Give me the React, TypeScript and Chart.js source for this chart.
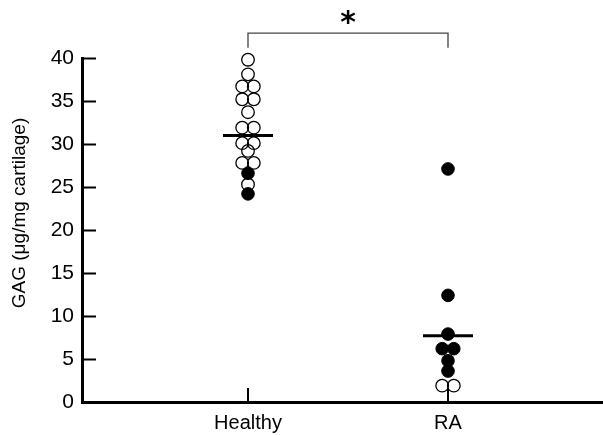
import { useEffect, useRef } from "react";
import { Chart, registerables } from "chart.js";

Chart.register(...registerables);

// ---- data ----
const categories = ["Healthy", "RA"];
const yTicks = [0, 5, 10, 15, 20, 25, 30, 35, 40];
const healthyOpen = [39.8, 38.1, 36.7, 36.7, 35.2, 35.2, 33.7, 31.9, 31.9, 30.1, 30.1, 29.2, 27.8, 27.8, 25.3];
const healthyOpenSide = [0, 0, -1, 1, -1, 1, 0, -1, 1, -1, 1, 0, -1, 1, 0];
const healthyFilled = [26.6, 24.2];
const healthyFilledSide = [0, 0];
const raFilled = [27.1, 12.4, 7.9, 6.2, 6.2, 4.8, 3.6];
const raFilledSide = [0, 0, 0, -1, 1, 0, 0];
const raOpen = [1.9, 1.9];
const raOpenSide = [-1, 1];
const groupMeans = [31.0, 7.7];
const yTitle = "GAG (\u03bcg/mg cartilage)";
const significance = "*";
const bracketLevel = 42.9;
const bracketDrop = 1.7;
const starLevel = 44.7;

// ---- layout / style constants ----
const JITTER = 0.029;
const MEAN_HALF = 0.125;
const FONT = "'Liberation Sans', Arial, Helvetica, sans-serif";

const toPoints = (vals: number[], sides: number[], cat: number) =>
  vals.map((v, i) => ({ x: cat + sides[i] * JITTER, y: v }));

const decor = {
  id: "decor",
  afterDraw(chart: any) {
    const { ctx, chartArea, scales } = chart;
    const xs = scales.x;
    const ys = scales.y;
    ctx.save();
    ctx.strokeStyle = "#000";
    ctx.lineWidth = 2;
    yTicks.forEach((v) => {
      const p = Math.round(ys.getPixelForValue(v)) + 0.5;
      ctx.beginPath();
      ctx.moveTo(chartArea.left, p);
      ctx.lineTo(chartArea.left + 14, p);
      ctx.stroke();
    });
    categories.forEach((_, i) => {
      const p = Math.round(xs.getPixelForValue(i + 1));
      ctx.beginPath();
      ctx.moveTo(p, chartArea.bottom);
      ctx.lineTo(p, chartArea.bottom - 14);
      ctx.stroke();
    });
    // significance bracket
    const x1 = xs.getPixelForValue(1);
    const x2 = xs.getPixelForValue(2);
    const yb = ys.getPixelForValue(bracketLevel);
    const yd = ys.getPixelForValue(bracketLevel - bracketDrop);
    ctx.strokeStyle = "#444";
    ctx.lineWidth = 1.3;
    ctx.beginPath();
    ctx.moveTo(x1, yd);
    ctx.lineTo(x1, yb);
    ctx.lineTo(x2, yb);
    ctx.lineTo(x2, yd);
    ctx.stroke();
    // star
    ctx.fillStyle = "#000";
    ctx.font = "bold 30px 'DejaVu Sans', sans-serif";
    ctx.textAlign = "center";
    ctx.textBaseline = "alphabetic";
    const m = ctx.measureText(significance);
    const sx = xs.getPixelForValue(1.5);
    const sy = ys.getPixelForValue(starLevel);
    const asc = m.actualBoundingBoxAscent;
    const desc = m.actualBoundingBoxDescent;
    ctx.fillText(significance, sx, sy + (asc - desc) / 2);
    // y title
    ctx.translate(20, 213);
    ctx.rotate(-Math.PI / 2);
    ctx.font = `19px ${FONT}`;
    ctx.textAlign = "center";
    ctx.textBaseline = "middle";
    ctx.fillText(yTitle, 0, 0);
    ctx.restore();
  },
};

export default function App() {
  const ref = useRef<HTMLCanvasElement | null>(null);

  useEffect(() => {
    if (!ref.current) return;
    const openStyle = {
      backgroundColor: "rgba(255,255,255,0)",
      borderColor: "#000",
      borderWidth: 1.3,
      pointRadius: 6.3,
      showLine: false,
      clip: false,
      order: 2,
    };
    const filledStyle = {
      backgroundColor: "#000",
      borderColor: "#000",
      borderWidth: 1,
      pointRadius: 6.3,
      showLine: false,
      clip: false,
      order: 1,
    };
    const meanSets = groupMeans.map((m, i) => ({
      data: [
        { x: i + 1 - MEAN_HALF, y: m },
        { x: i + 1 + MEAN_HALF, y: m },
      ],
      showLine: true,
      borderColor: "#000",
      borderWidth: 3,
      pointRadius: 0,
      clip: false,
      order: 0,
    }));
    const chart = new Chart(ref.current, {
      type: "scatter",
      data: {
        datasets: [
          { data: toPoints(healthyOpen, healthyOpenSide, 1), ...openStyle },
          { data: toPoints(raOpen, raOpenSide, 2), ...openStyle },
          { data: toPoints(healthyFilled, healthyFilledSide, 1), ...filledStyle },
          { data: toPoints(raFilled, raFilledSide, 2), ...filledStyle },
          ...meanSets,
        ] as any,
      },
      options: {
        animation: false,
        responsive: false,
        layout: { autoPadding: false, padding: { top: 58, right: 0, left: 0, bottom: 0 } },
        plugins: { legend: { display: false }, tooltip: { enabled: false } },
        scales: {
          x: {
            type: "linear",
            min: 0.17,
            max: 2.775,
            grid: { display: false, drawTicks: false },
            border: { display: true, color: "#000", width: 3 },
            afterBuildTicks: (scale: any) => {
              scale.ticks = categories.map((_, i) => ({ value: i + 1 }));
            },
            afterFit: (scale: any) => {
              scale.height = 33;
              scale.paddingLeft = 0;
              scale.paddingRight = 0;
            },
            ticks: {
              color: "#000",
              font: { family: FONT, size: 20 },
              padding: 9,
              maxRotation: 0,
              autoSkip: false,
              callback: (v: any) => categories[Math.round(Number(v)) - 1] ?? "",
            },
          },
          y: {
            type: "linear",
            min: 0,
            max: 40,
            grid: { display: false, drawTicks: false },
            border: { display: true, color: "#000", width: 3 },
            afterBuildTicks: (scale: any) => {
              scale.ticks = yTicks.map((v) => ({ value: v }));
            },
            afterFit: (scale: any) => {
              scale.width = 82;
              scale.paddingTop = 0;
              scale.paddingBottom = 0;
            },
            ticks: {
              color: "#000",
              font: { family: FONT, size: 21 },
              padding: 8,
            },
          },
        },
      },
      plugins: [decor],
    });
    return () => chart.destroy();
  }, []);

  return (
    <div style={{ position: "fixed", left: 0, top: 0, width: 603, height: 435, background: "#fff" }}>
      <canvas ref={ref} width={603} height={435} />
    </div>
  );
}
